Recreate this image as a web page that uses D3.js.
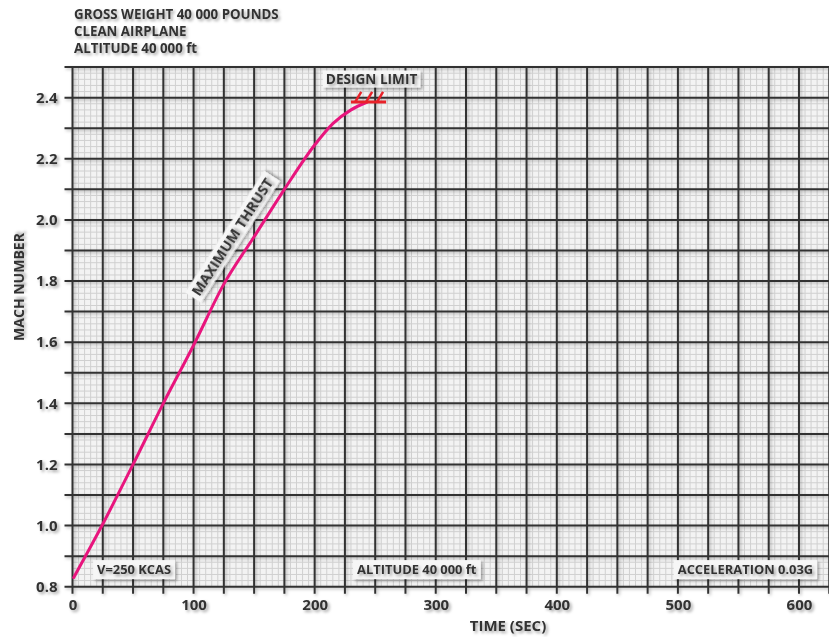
<!DOCTYPE html>
<html><head><meta charset="utf-8">
<script src="https://cdn.jsdelivr.net/npm/d3@7"></script>
<style>
body{margin:0;background:#fff;}
svg{display:block;font-family:"Open Sans",sans-serif;}
</style></head>
<body>
<svg id="c" width="829" height="637"></svg>
<script>
// ---- data ----
const titleLines = ["GROSS WEIGHT 40 000 POUNDS", "CLEAN AIRPLANE", "ALTITUDE 40 000 ft"];
const timeSec = [1, 25, 50, 75, 100, 125, 150, 175, 200, 215, 230, 243];
const machNum = [0.83, 1.005, 1.2, 1.4, 1.59, 1.79, 1.945, 2.10, 2.245, 2.315, 2.36, 2.385];
const xTickLabels = [0, 100, 200, 300, 400, 500, 600];
const yTickLabels = [0.8, 1.0, 1.2, 1.4, 1.6, 1.8, 2.0, 2.2, 2.4];
const designLimitMach = 2.386;
const designLimitTime = [230, 259];
const designHatchTimes = [236, 245, 254];
const xTitle = "TIME (SEC)";
const yTitle = "MACH NUMBER";
const curveLabel = "MAXIMUM THRUST";
const notes = [
  {text: "V=250 KCAS", t: 17, m: 0.856, anchor: "start"},
  {text: "ALTITUDE 40 000 ft", t: 231.7, m: 0.856, anchor: "start"},
  {text: "ACCELERATION 0.03G", t: 615, m: 0.856, anchor: "end"}
];

const svg = d3.select("#c");
const x = d3.scaleLinear().domain([0, 625]).range([72.5, 829.25]);
const y = d3.scaleLinear().domain([0.8, 2.5]).range([586.7, 67.1]);

const defs = svg.append("defs");
const f = defs.append("filter").attr("id","sh").attr("x","-20%").attr("y","-50%").attr("width","150%").attr("height","200%");
f.append("feDropShadow").attr("dx",2).attr("dy",2).attr("stdDeviation",1.6).attr("flood-color","#000").attr("flood-opacity",0.35);
const f2 = defs.append("filter").attr("id","sh2").attr("x","-5%").attr("y","-5%").attr("width","110%").attr("height","110%");
f2.append("feDropShadow").attr("dx",1.5).attr("dy",1.5).attr("stdDeviation",1.5).attr("flood-color","#000").attr("flood-opacity",0.28);

// background
const [x0,x1] = x.range(), [y0,y1] = y.range();
svg.append("rect").attr("x",x0).attr("y",y1).attr("width",x1-x0).attr("height",y0-y1).attr("fill","#f3f3f3");

// minor grid
const minorX = d3.range(0, 626, 5).filter(d => d % 25 !== 0);
const minorY = d3.range(80, 251, 2).map(d => d/100).filter((d,i) => Math.round(d*100) % 10 !== 0);
const gMinor = svg.append("g").attr("stroke","#d0d0d0").attr("stroke-width",1);
gMinor.selectAll("line.vx").data(minorX).join("line").attr("x1",d=>x(d)).attr("x2",d=>x(d)).attr("y1",y1).attr("y2",y0);
gMinor.selectAll("line.hy").data(minorY).join("line").attr("y1",d=>y(d)).attr("y2",d=>y(d)).attr("x1",x0).attr("x2",x1);

// major grid with shadow
const majorX = d3.range(0, 626, 25);
const majorY = d3.range(8, 26, 1).map(d => d/10);
const gMajor = svg.append("g").attr("stroke","#333").attr("stroke-width",2).attr("filter","url(#sh2)");
gMajor.selectAll("line.vx").data(majorX).join("line").attr("x1",d=>x(d)).attr("x2",d=>x(d)).attr("y1",y1).attr("y2",y0+7);
gMajor.selectAll("line.hy").data(majorY).join("line").attr("y1",d=>y(d)).attr("y2",d=>y(d)).attr("x1",x0-8).attr("x2",x1);

// axes labels
const xAxis = d3.axisBottom(x).tickValues(xTickLabels).tickSize(0).tickPadding(13).tickFormat(d3.format("d"));
const gx = svg.append("g").attr("transform",`translate(0,${y0})`).call(xAxis);
gx.select(".domain").remove();
gx.selectAll("text").attr("font-size",15).attr("font-weight",700).attr("fill","#333").attr("font-family","Open Sans").attr("filter","url(#sh)");
const yAxis = d3.axisLeft(y).tickValues(yTickLabels).tickSize(0).tickPadding(15).tickFormat(d3.format(".1f"));
const gy = svg.append("g").attr("transform",`translate(${x0},0)`).call(yAxis);
gy.select(".domain").remove();
gy.selectAll("text").attr("font-size",15).attr("font-weight",700).attr("fill","#333").attr("font-family","Open Sans").attr("filter","url(#sh)");

// axis titles
svg.append("text").attr("x",508).attr("y",631).attr("text-anchor","middle").attr("font-size",15).attr("font-weight",700).attr("fill","#333").attr("filter","url(#sh)").text(xTitle);
svg.append("text").attr("transform","translate(24,287) rotate(-90)").attr("text-anchor","middle").attr("font-size",14).attr("font-weight",700).attr("fill","#333").attr("filter","url(#sh)").text(yTitle);

// title lines
svg.append("g").selectAll("text").data(titleLines).join("text")
  .attr("x",74).attr("y",(d,i)=>18.5+i*17).attr("font-size",13.3).attr("font-weight",700).attr("fill","#333").attr("filter","url(#sh)").text(d=>d);

// label box helper
function labelBox(g, txt, cx, cy, anchor, padX, fs, h){
  const t = g.append("text").attr("font-size",fs).attr("font-weight",700).attr("fill","#333").attr("text-anchor",anchor)
    .attr("x",cx).attr("y",cy).attr("dy","0.36em").text(txt);
  const bb = t.node().getBBox();
  g.insert("rect","text").attr("x",bb.x-padX).attr("y",cy-h/2).attr("width",bb.width+2*padX).attr("height",h)
    .attr("fill","#f6f6f6").attr("filter","url(#sh)");
  t.attr("filter","url(#sh)");
}

// notes
notes.forEach(n => {
  const g = svg.append("g");
  const px = x(n.t) + (n.anchor === "start" ? 4 : -4);
  labelBox(g, n.text, px, y(n.m), n.anchor, 4, 12.9, 19);
});

// design limit label
labelBox(svg.append("g"), "DESIGN LIMIT", x(247), y(2.461), "middle", 3, 13.6, 17);

// curve
const pts = timeSec.map((t,i)=>[t, machNum[i]]);
const line = d3.line().x(d=>x(d[0])).y(d=>y(d[1])).curve(d3.curveMonotoneX);
svg.append("path").datum(pts).attr("d",line).attr("fill","none").attr("stroke","#e8157d").attr("stroke-width",3).attr("stroke-linecap","round");

// design limit line + hatches
svg.append("line").attr("x1",x(designLimitTime[0])).attr("x2",x(designLimitTime[1])).attr("y1",y(designLimitMach)).attr("y2",y(designLimitMach))
  .attr("stroke","#e8222a").attr("stroke-width",3);
svg.append("g").selectAll("line").data(designHatchTimes).join("line")
  .attr("x1",d=>x(d)-3).attr("y1",y(designLimitMach)).attr("x2",d=>x(d)+3).attr("y2",y(designLimitMach)-10)
  .attr("stroke","#e8222a").attr("stroke-width",2.5);

// curve label
const gl = svg.append("g").attr("transform",`translate(${x(132)},${y(1.944)}) rotate(-57)`);
labelBox(gl, curveLabel, 0, 0, "middle", 4, 14.5, 19);
</script>
</body></html>
